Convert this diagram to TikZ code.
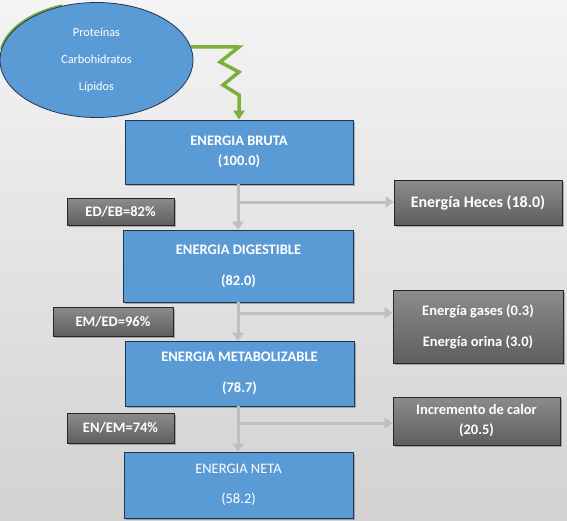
\documentclass[tikz,border=0pt]{standalone}
\usepackage{fontspec}
\setmainfont{Carlito}
\usetikzlibrary{shapes.geometric,arrows.meta,shadows}
\definecolor{boxblue}{HTML}{5B9BD5}
\definecolor{blueedge}{HTML}{22354F}
\definecolor{greenarr}{HTML}{7DB03B}
\definecolor{arrgray}{HTML}{BFBFBF}
\definecolor{gtop}{HTML}{8C8C8C}
\definecolor{gbot}{HTML}{5E5E5E}
\definecolor{bgtop}{HTML}{F4F4F4}
\definecolor{bgbot}{HTML}{D2D2D2}
\begin{document}
\begin{tikzpicture}[x=1pt,y=-1pt,
  softshadow/.style={drop shadow={shadow xshift=1.5pt,shadow yshift=-2pt,opacity=0.25,fill=black}},
  bluestep/.style={draw=blueedge,line width=0.8pt,fill=boxblue,text=white,
    font=\bfseries\fontsize{14.5}{17}\selectfont,align=center,inner sep=0pt,softshadow},
  graystep/.style={draw=black!85,line width=0.7pt,top color=gtop,bottom color=gbot,text=white,
    font=\bfseries\fontsize{14.5}{17}\selectfont,align=center,inner sep=0pt,softshadow},
  ratiostep/.style={graystep,font=\bfseries\fontsize{14.5}{17}\selectfont},
  grayarrow/.style={draw=arrgray,line width=3pt,-{Triangle[width=11pt,length=8pt]}},
  greenarrow/.style={draw=greenarr,line width=3.5pt,line join=miter,-{Triangle[width=11pt,length=9pt]}}
]
\shade[top color=bgtop,bottom color=bgbot] (0,0) rectangle (567,520);
\useasboundingbox (0,0) rectangle (567,520);

% source ellipse with a thin green rim on its upper left
\begin{scope}
  \clip (0,0) rectangle (62,48);
  \fill[greenarr] (95.2,58.3) ellipse [x radius=96.5, y radius=57.5];
\end{scope}
\node[ellipse,draw=blueedge,line width=0.8pt,fill=boxblue,text=white,
  minimum width=193pt,minimum height=115pt,inner sep=0pt,align=center,
  font=\fontsize{12.3}{14}\selectfont] (ell) at (96.5,60)
  {Proteínas\\[13pt]Carbohidratos\\[13pt]Lípidos};

% main boxes
\node[bluestep,minimum width=228pt,minimum height=64pt] (eb) at (239,152)
  {ENERGIA BRUTA\\[3pt](100.0)};
\node[bluestep,minimum width=230pt,minimum height=72pt] (ed) at (238.5,266)
  {ENERGIA DIGESTIBLE\\[14pt](82.0)};
\node[bluestep,minimum width=229pt,minimum height=65pt] (em) at (239.5,373.5)
  {ENERGIA METABOLIZABLE\\[14pt](78.7)};
\node[bluestep,font=\fontsize{14.5}{17}\selectfont,minimum width=229pt,minimum height=66pt] (en) at (238.5,485)
  {ENERGIA NETA\\[13pt](58.2)};

% loss boxes
\node[graystep,minimum width=168pt,minimum height=45pt,font=\bfseries\fontsize{16}{18}\selectfont] (heces) at (478,202.5)
  {Energía Heces (18.0)};
\node[graystep,minimum width=170pt,minimum height=73pt] (gases) at (478,326.5)
  {Energía gases (0.3)\\[14pt]Energía orina (3.0)};
\node[graystep,minimum width=167pt,minimum height=48pt] (calor) at (476.5,421)
  {Incremento de calor\\[3pt](20.5)};

% ratio boxes
\node[ratiostep,minimum width=107pt,minimum height=27pt] (r1) at (120.5,211.5) {ED/EB=82\%};
\node[ratiostep,minimum width=120pt,minimum height=29pt] (r2) at (113,321.5) {EM/ED=96\%};
\node[ratiostep,minimum width=107pt,minimum height=30pt] (r3) at (120.5,428) {EN/EM=74\%};

% green zigzag arrow
\coordinate (g1) at (239,47);
\coordinate (g2) at (220,62);
\coordinate (g3) at (239,72);
\coordinate (g4) at (223,85);
\coordinate (g5) at (239,95);
\draw[greenarrow] (ell.8) -- (g1) -- (g2) -- (g3) -- (g4) -- (g5) -- (eb.north);

% gray flow arrows
\coordinate (b1) at (238,202);
\coordinate (b2) at (238,313);
\coordinate (b3) at (238,423);
\draw[grayarrow] (eb.south -| b1) -- (ed.north -| b1);
\draw[grayarrow] (b1) -- (b1 -| heces.west);
\draw[grayarrow] (ed.south -| b2) -- (em.north -| b2);
\draw[grayarrow] (b2) -- (b2 -| gases.west);
\draw[grayarrow] (em.south -| b3) -- (en.north -| b3);
\draw[grayarrow] (b3) -- (b3 -| calor.west);
\end{tikzpicture}
\end{document}
